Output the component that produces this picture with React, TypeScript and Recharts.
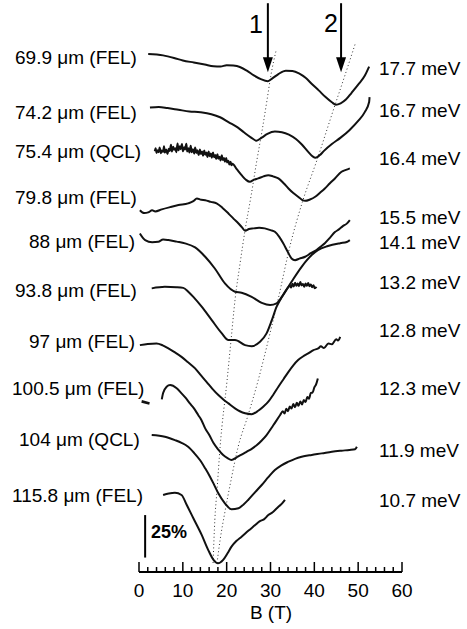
import { ComposedChart, Line, Scatter, XAxis, YAxis, ReferenceLine } from 'recharts';

// B field ticks (T); minor every 2 T, labelled every 10 T
const bTicks = [0, 2, 4, 6, 8, 10, 12, 14, 16, 18, 20, 22, 24, 26, 28, 30, 32, 34, 36, 38, 40, 42, 44, 46, 48, 50, 52, 54, 56, 58, 60];

// traces: [B (T), transmission (%) incl. vertical offset]
const t699: [number, number][] = [
  [2.1, 304.8], [5.5, 304.0], [8.0, 302.5], [10.0, 301.0], [12.5, 299.8], [15.0, 298.6], [17.0, 297.6],
  [18.6, 297.4], [20.0, 298.2], [21.5, 298.0], [23.0, 297.2], [24.6, 295.0], [26.2, 292.2], [27.8, 290.0],
  [29.4, 288.8], [30.5, 290.6], [31.8, 293.0], [33.5, 295.0], [35.0, 294.8], [36.5, 293.4], [38.0, 290.8],
  [39.5, 287.0], [41.0, 283.4], [42.5, 279.6], [44.0, 276.4], [44.9, 275.0], [46.0, 275.8], [47.2, 278.0],
  [48.5, 282.0], [50.0, 286.8], [51.5, 292.0], [52.5, 297.4],
];
const t742: [number, number][] = [
  [2.5, 273.3], [4.5, 273.6], [6.5, 273.0], [9.0, 272.0], [11.5, 271.0], [14.0, 270.5], [16.5, 269.4],
  [18.5, 267.6], [20.5, 264.6], [22.5, 261.6], [24.0, 258.6], [25.5, 255.8], [26.8, 253.8], [28.0, 255.6],
  [29.3, 257.8], [31.0, 259.2], [32.6, 258.8], [34.2, 257.4], [35.8, 254.8], [37.2, 251.4], [38.6, 247.2],
  [39.6, 244.6], [40.3, 243.8], [41.2, 245.2], [42.2, 247.8], [44.0, 251.8], [46.0, 255.6], [48.0, 260.0],
  [50.0, 265.4], [51.5, 270.6], [52.5, 276.6], [52.6, 279.4],
];
const t754: [number, number][] = [
  [3.6, 247.6], [3.8, 249.4], [4.0, 246.6], [4.3, 248.2], [4.5, 247.0], [4.7, 249.8], [5.0, 246.4], [5.2, 248.0],
  [5.5, 247.2], [5.7, 250.6], [5.9, 246.8], [6.2, 248.6], [6.5, 246.0], [6.8, 249.0], [7.0, 247.8], [7.3, 251.4],
  [7.5, 247.4], [7.8, 250.2], [8.0, 248.4], [8.3, 249.4], [8.5, 247.0], [8.8, 252.2], [9.0, 248.2], [9.3, 250.6],
  [9.5, 248.8], [9.8, 251.8], [10.0, 247.6], [10.3, 250.0], [10.5, 248.6], [10.8, 252.0], [11.0, 247.4],
  [11.3, 249.4], [11.5, 246.8], [11.8, 250.8], [12.0, 247.0], [12.3, 248.8], [12.6, 246.2], [12.8, 249.8],
  [13.1, 246.6], [13.3, 248.2], [13.6, 245.4], [13.9, 248.6], [14.1, 246.0], [14.4, 247.4], [14.6, 245.0],
  [14.9, 248.0], [15.1, 245.6], [15.4, 246.8], [15.6, 244.2], [15.9, 247.4], [16.1, 244.6], [16.4, 246.2],
  [16.6, 243.8], [16.9, 246.8], [17.1, 244.0], [17.4, 245.4], [17.6, 243.0], [17.9, 245.8], [18.1, 243.2],
  [18.4, 244.4], [18.6, 242.2], [18.9, 245.2], [19.1, 242.4], [19.4, 243.6], [19.6, 241.4], [19.9, 243.6],
  [20.1, 241.0], [20.4, 242.0], [20.6, 239.8], [20.9, 241.4], [21.1, 239.4], [21.3, 240.2],
  [22.3, 237.0], [23.4, 233.5], [24.4, 230.8], [25.3, 229.6], [26.2, 230.8], [27.2, 231.6],
  [28.4, 232.8], [29.5, 233.5], [30.6, 232.8], [31.8, 231.6], [33.0, 228.8], [34.1, 225.7], [35.2, 223.0],
  [36.3, 220.8], [37.2, 219.0], [37.9, 218.4], [39.0, 219.2], [40.2, 220.8], [41.3, 223.2], [42.4, 225.7],
  [43.5, 228.6], [44.7, 231.6], [46.2, 235.5], [47.2, 236.6], [48.1, 237.5],
];
const t798: [number, number][] = [
  [0.2, 212.9], [1.2, 211.2], [2.1, 211.6], [3.0, 212.8], [3.7, 212.2], [5.2, 213.4], [7.1, 214.7], [9.0, 215.9],
  [11.2, 216.9], [12.4, 218.2], [13.2, 219.8], [14.2, 219.0], [15.1, 218.8], [16.4, 217.8], [17.7, 216.9],
  [19.0, 214.4], [20.4, 211.0], [21.6, 207.8], [22.7, 205.1], [23.5, 202.8], [24.2, 200.8], [25.1, 201.8],
  [26.1, 202.2], [27.4, 202.6], [28.7, 202.2], [30.0, 201.2], [31.0, 200.2], [32.0, 197.2], [32.9, 193.4],
  [33.9, 188.6], [34.8, 184.5], [35.6, 183.5], [36.6, 184.4], [37.9, 185.5], [39.2, 187.6], [40.5, 189.4],
  [41.5, 191.6], [42.4, 193.5], [43.6, 196.8], [44.7, 200.0], [45.6, 201.6], [46.5, 203.5], [47.4, 205.0], [48.1, 207.1],
];
const t88: [number, number][] = [
  [0.2, 199.2], [1.4, 195.3], [3.0, 194.1], [4.4, 194.3], [5.5, 195.6], [6.7, 195.3], [8.6, 194.4], [10.5, 193.4],
  [12.8, 191.0], [15.1, 185.5], [17.3, 178.6], [19.6, 169.8], [21.9, 164.9], [23.4, 164.3], [25.7, 161.9],
  [28.0, 158.4], [29.9, 157.1], [31.4, 158.1], [32.6, 161.9], [34.8, 170.8], [37.1, 179.6], [39.4, 186.5],
  [40.8, 189.4], [43.1, 191.8], [45.9, 193.5], [47.4, 194.2], [48.1, 195.3],
];
const t938: [number, number][] = [
  [2.9, 166.9], [5.9, 167.8], [8.5, 167.6], [10.1, 167.2], [11.3, 164.8], [12.4, 161.9], [14.3, 156.1],
  [16.6, 148.2], [18.9, 140.4], [20.4, 136.5], [21.9, 136.5], [24.2, 133.5], [25.7, 132.9], [27.6, 135.5],
  [29.1, 140.4], [30.3, 148.2], [31.4, 156.1], [32.6, 161.9], [34.1, 167.8], [34.4, 168.6], [34.7, 167.4],
  [35.0, 169.6], [35.3, 168.0], [35.6, 170.2], [35.9, 168.4], [36.2, 169.8], [36.5, 168.2], [36.8, 170.6],
  [37.1, 168.6], [37.4, 169.4], [37.7, 167.8], [38.0, 169.8], [38.3, 168.4], [38.6, 170.0], [38.9, 168.2],
  [39.2, 169.2], [39.5, 167.6], [39.8, 168.8], [40.1, 167.0], [40.5, 167.8],
];
const t97: [number, number][] = [
  [0.2, 133.5], [2.0, 134.2], [4.0, 134.5], [5.4, 133.4], [6.7, 131.6], [8.2, 129.2], [9.7, 126.6],
  [11.2, 123.4], [12.8, 119.8], [14.1, 115.8], [15.4, 111.9], [16.8, 107.6], [18.1, 104.1], [19.3, 101.4],
  [20.4, 99.2], [21.9, 96.3], [23.0, 94.6], [24.2, 93.4], [25.7, 92.9], [27.2, 94.9], [28.4, 97.4],
  [29.5, 100.2], [30.7, 104.6], [31.8, 109.0], [33.0, 113.6], [34.1, 117.8], [35.2, 121.6], [36.3, 124.7],
  [37.4, 126.8], [38.6, 128.6], [39.8, 130.6], [40.9, 131.6], [41.5, 132.8], [42.2, 131.8], [43.2, 134.5],
  [44.0, 134.0], [45.0, 137.0], [45.4, 136.2], [45.9, 138.4],
];
const t1005: [number, number][] = [
  [5.2, 101.6], [5.5, 105.3], [6.3, 109.0], [7.1, 110.0], [8.6, 108.1], [9.7, 105.1], [10.6, 102.6],
  [11.6, 99.2], [12.5, 96.4], [13.5, 92.4], [14.2, 89.6], [15.1, 84.5], [16.0, 80.8], [17.0, 75.9],
  [18.1, 72.0], [19.2, 68.8], [20.2, 67.0], [21.1, 65.9], [22.3, 67.5], [23.4, 69.0], [24.6, 70.8],
  [25.8, 72.6], [26.9, 74.7], [28.0, 77.4], [29.1, 80.6], [30.6, 86.2], [32.2, 92.4], [32.8, 94.6],
  [33.2, 93.2], [33.6, 96.0], [34.0, 94.6], [34.4, 97.4], [34.8, 96.2], [35.2, 98.8], [35.6, 97.0],
  [36.0, 99.6], [36.4, 97.8], [36.8, 100.4], [37.2, 98.6], [37.6, 101.2], [38.0, 100.0], [38.4, 103.0],
  [38.8, 102.0], [39.2, 105.4], [39.6, 105.6], [40.0, 108.6], [40.4, 110.4], [40.8, 113.9],
];
const t1005stub: [number, number][] = [[0.6, 100.4], [2.4, 99.2]];
const t104: [number, number][] = [
  [2.9, 80.6], [5.9, 79.6], [8.2, 77.6], [9.7, 76.0], [11.2, 73.7], [12.6, 70.0], [13.9, 65.9], [15.1, 61.0],
  [16.2, 56.1], [17.2, 51.0], [18.1, 46.3], [19.6, 40.4], [21.1, 36.9], [22.7, 37.5], [23.8, 39.6],
  [24.9, 42.4], [26.5, 47.0], [28.0, 51.2], [29.5, 55.8], [31.0, 60.0], [32.5, 62.8], [34.1, 64.9],
  [35.6, 66.6], [37.1, 67.8], [39.4, 68.9], [41.7, 69.8], [44.0, 70.8], [46.2, 71.4], [48.0, 71.8],
  [49.3, 72.2], [49.7, 73.7],
];
const t1158: [number, number][] = [
  [5.5, 45.3], [6.8, 46.2], [8.2, 46.6], [9.7, 45.3], [10.9, 39.4], [12.4, 31.6], [14.3, 21.8], [15.8, 12.9],
  [17.0, 7.1], [18.0, 5.1], [19.2, 7.1], [20.2, 11.0], [21.1, 14.9], [22.2, 18.2], [23.4, 20.8], [25.0, 24.4],
  [26.5, 27.6], [27.5, 29.8], [28.5, 31.0], [29.5, 33.5], [30.5, 35.2], [31.8, 38.4], [32.6, 40.2], [33.3, 42.4],
];

// resonance guide lines 1 and 2 (dotted)
const guide1: [number, number][] = [
  [16.9, 5.3], [17.3, 30.6], [17.8, 48.2], [18.5, 73.5], [20.1, 112.9], [21.0, 136.5], [21.9, 160.0],
  [23.0, 180.6], [24.2, 201.2], [25.6, 221.8], [26.9, 242.4], [28.1, 260.0], [29.2, 277.6], [30.1, 292.4], [31.3, 307.1],
];
const guide2: [number, number][] = [
  [17.8, 5.3], [18.5, 18.8], [19.6, 35.3], [21.0, 54.1], [22.6, 73.5], [24.9, 92.4], [27.2, 112.9],
  [29.9, 140.6], [31.7, 160.0], [34.5, 192.4], [37.2, 217.1], [40.6, 242.4], [44.7, 274.7], [47.0, 292.4], [49.3, 310.6],
];

const wavelengths = ['69.9 μm (FEL)', '74.2 μm (FEL)', '75.4 μm (QCL)', '79.8 μm (FEL)', '88 μm (FEL)', '93.8 μm (FEL)', '97 μm (FEL)', '100.5 μm (FEL)', '104 μm (QCL)', '115.8 μm (FEL)'];
const energies = ['17.7 meV', '16.7 meV', '16.4 meV', '15.5 meV', '14.1 meV', '13.2 meV', '12.8 meV', '12.3 meV', '11.9 meV', '10.7 meV'];
const traces = [t699, t742, t754, t798, t88, t938, t97, t1005, t1005stub, t104, t1158];

// arrows marking resonances 1 and 2
const arrowB = [29.4, 46.1];
const arrowTip = 294.1;
const arrowTail = 334.7;
const scaleBarPct = 25;

const rows = (pts: [number, number][]) => pts.map(([B, T]) => ({ B, T }));

// layout of the text around the plot
const leftPos = [[15, 64], [15, 119], [15, 158], [15, 204], [29, 248], [15, 297], [29, 348], [12, 395], [19, 446], [12, 502]];
const rightY = [75, 117, 165, 224, 249, 289, 337, 395, 457, 507];
const FONT = '"Liberation Sans", Arial, Helvetica, sans-serif';

function BTick(props: any) {
  const { x, y, payload } = props;
  const major = payload.value % 10 === 0;
  return (
    <g>
      <line x1={x} x2={x} y1={y} y2={y - (major ? 10 : 5)} stroke="#000" strokeWidth={1.5} />
      {major && (
        <text x={x} y={y + 25} textAnchor="middle" fontSize={19} fontFamily={FONT} fill="#000">
          {payload.value}
        </text>
      )}
    </g>
  );
}

function ArrowHead(props: any) {
  const { cx, cy } = props;
  return <path d={`M${cx},${cy} L${cx - 5},${cy - 15} L${cx + 5},${cy - 15} Z`} fill="#000" />;
}

export default function App() {
  return (
    <div style={{ position: 'absolute', left: 0, top: 0, width: 467, height: 629, background: '#fff' }}>
      <ComposedChart width={467} height={629} margin={{ top: 1, right: 65, bottom: 17, left: 139 }}>
        <XAxis
          type="number"
          dataKey="B"
          domain={[0, 60]}
          ticks={bTicks}
          interval={0}
          height={40}
          tickSize={0}
          tickMargin={0}
          tickLine={false}
          axisLine={{ stroke: '#000', strokeWidth: 2 }}
          tick={(p: any) => <BTick {...p} />}
          allowDataOverflow
        />
        <YAxis type="number" domain={[0, 336]} hide allowDataOverflow />
        {[guide1, guide2].map((g, i) => (
          <Line
            key={'g' + i}
            data={rows(g)}
            dataKey="T"
            type="monotone"
            stroke="#333"
            strokeWidth={1}
            strokeDasharray="1 2.6"
            dot={false}
            isAnimationActive={false}
          />
        ))}
        {traces.map((t, i) => (
          <Line
            key={'t' + i}
            data={rows(t)}
            dataKey="T"
            type="monotone"
            stroke="#111"
            strokeWidth={t === t1005stub ? 2.6 : 2}
            dot={false}
            isAnimationActive={false}
          />
        ))}
        {arrowB.map((b) => (
          <ReferenceLine
            key={'a' + b}
            segment={[{ x: b, y: arrowTip + 6 }, { x: b, y: arrowTail }]}
            stroke="#000"
            strokeWidth={2}
            ifOverflow="visible"
          />
        ))}
        <Scatter
          data={arrowB.map((b) => ({ B: b, T: arrowTip }))}
          dataKey="T"
          shape={ArrowHead}
          isAnimationActive={false}
        />
        <ReferenceLine
          segment={[{ x: 1.4, y: 8.5 }, { x: 1.4, y: 8.5 + scaleBarPct }]}
          stroke="#000"
          strokeWidth={2}
          ifOverflow="visible"
        />
      </ComposedChart>
      <svg
        width={467}
        height={629}
        style={{ position: 'absolute', left: 0, top: 0, pointerEvents: 'none' }}
        fontFamily={FONT}
        fill="#000"
      >
        {wavelengths.map((w, i) => (
          <text key={w} x={leftPos[i][0]} y={leftPos[i][1]} fontSize={19}>
            {w}
          </text>
        ))}
        {energies.map((e, i) => (
          <text key={e} x={379} y={rightY[i]} fontSize={19}>
            {e}
          </text>
        ))}
        <text x={256} y={33} fontSize={25} textAnchor="middle">1</text>
        <text x={331} y={32} fontSize={25} textAnchor="middle">2</text>
        <text x={151} y={538} fontSize={18} fontWeight="bold">{scaleBarPct}%</text>
        <text x={271} y={619} fontSize={19} textAnchor="middle">B (T)</text>
      </svg>
    </div>
  );
}
